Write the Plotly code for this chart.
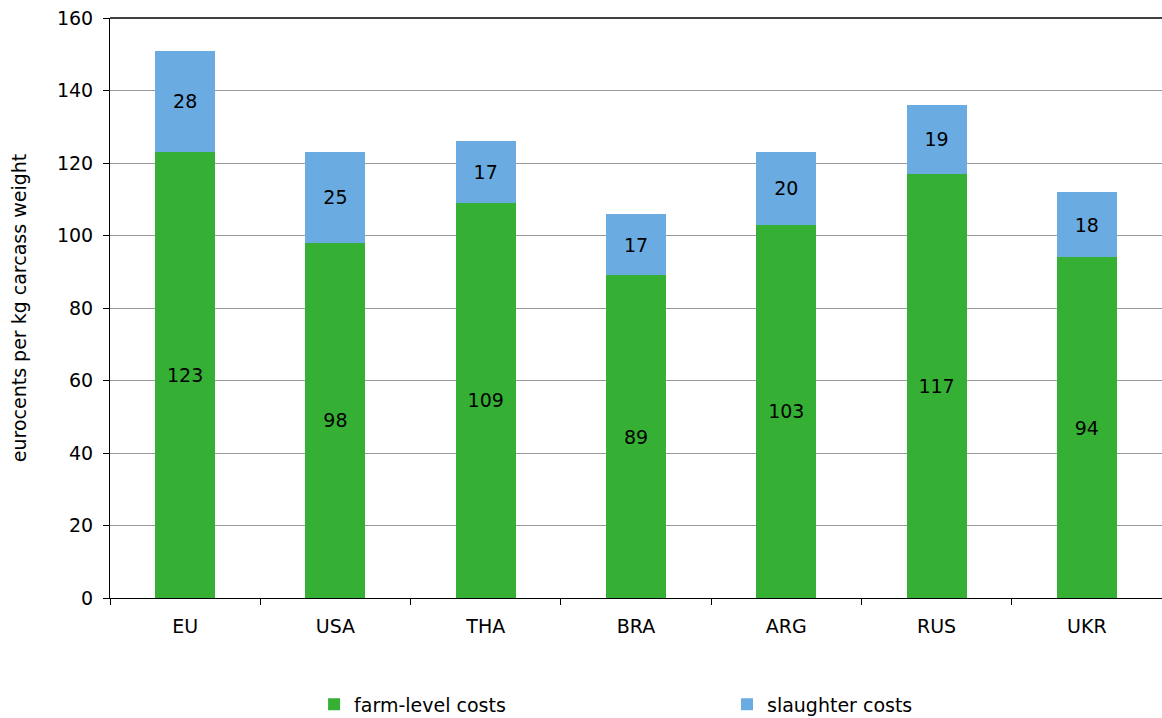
import plotly.graph_objects as go

categories = ["EU", "USA", "THA", "BRA", "ARG", "RUS", "UKR"]
farm_costs = [123, 98, 109, 89, 103, 117, 94]
slaughter_costs = [28, 25, 17, 17, 20, 19, 18]
y_ticks = [0, 20, 40, 60, 80, 100, 120, 140, 160]

FONT = "DejaVu Sans"
FS = 19
GREEN = "#36b034"
BLUE = "#6aace2"

fig = go.Figure()
fig.add_trace(go.Bar(
    x=categories, y=farm_costs, name="farm-level costs", legend="legend",
    marker=dict(color=GREEN, line=dict(width=0)),
    text=[str(v) for v in farm_costs], textposition="inside",
    insidetextanchor="middle", textangle=0,
    textfont=dict(color="#000000", size=FS, family=FONT),
))
fig.add_trace(go.Bar(
    x=categories, y=slaughter_costs, name="slaughter costs", legend="legend2",
    marker=dict(color=BLUE, line=dict(width=0)),
    text=[str(v) for v in slaughter_costs], textposition="inside",
    insidetextanchor="middle", textangle=0,
    textfont=dict(color="#000000", size=FS, family=FONT),
))

legend_common = dict(
    orientation="h", yref="container", y=0.019, xanchor="left", yanchor="middle",
    itemwidth=30, font=dict(family=FONT, size=FS, color="#000000"),
    bgcolor="rgba(0,0,0,0)",
)

fig.update_layout(
    barmode="stack",
    bargap=0.6,
    width=1162, height=718,
    margin=dict(l=110, r=0, t=18, b=120),
    paper_bgcolor="white", plot_bgcolor="white",
    font=dict(family=FONT, size=FS, color="#000000"),
    uniformtext=dict(minsize=FS, mode="show"),
    showlegend=True,
    legend=dict(x=0.194, **legend_common),
    legend2=dict(x=0.5865, **legend_common),
    xaxis=dict(
        showline=True, linecolor="#000000", linewidth=1,
        ticks="outside", tickson="boundaries", ticklen=6, tickcolor="#000000",
        ticklabelstandoff=11,
        showgrid=False,
        tickfont=dict(family=FONT, size=FS, color="#000000"),
    ),
    yaxis=dict(
        range=[0, 160], tickvals=y_ticks,
        showline=True, linecolor="#000000", linewidth=1,
        ticks="outside", ticklen=6, tickcolor="#000000",
        ticklabelstandoff=6,
        showgrid=True, gridcolor="#9a9a9a", gridwidth=1,
        zeroline=False,
        tickfont=dict(family=FONT, size=FS, color="#000000"),
        title=dict(text="eurocents per kg carcass weight",
                   font=dict(family=FONT, size=FS, color="#000000"), standoff=25),
    ),
    shapes=[dict(type="line", xref="paper", yref="paper", x0=0, x1=1, y0=1, y1=1,
                 line=dict(color="#404040", width=2))],
)

fig.write_html("out.html", config={"displayModeBar": False},
               post_script="document.body.style.margin='0';")
